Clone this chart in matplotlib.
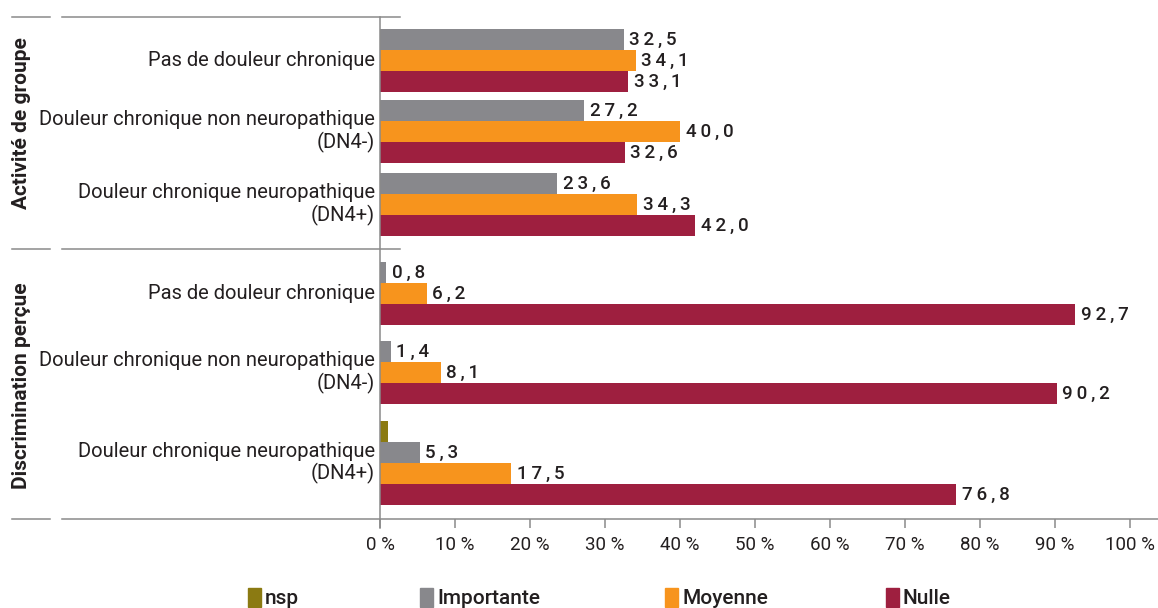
import matplotlib
matplotlib.use("Agg")
import matplotlib.pyplot as plt
from matplotlib.lines import Line2D
from matplotlib.patches import Rectangle

# ---------------- data ----------------
groups = ["Activité de groupe", "Discrimination perçue"]
categories = ["Pas de douleur chronique",
              "Douleur chronique non neuropathique\n(DN4-)",
              "Douleur chronique neuropathique\n(DN4+)"]
series_names = ["nsp", "Importante", "Moyenne", "Nulle"]
nsp = [[None, None, None], [None, None, 1.0]]
importante = [[32.5, 27.2, 23.6], [0.8, 1.4, 5.3]]
moyenne = [[34.1, 40.0, 34.3], [6.2, 8.1, 17.5]]
nulle = [[33.1, 32.6, 42.0], [92.7, 90.2, 76.8]]
nsp_labelled = False
xticks = [0, 10, 20, 30, 40, 50, 60, 70, 80, 90, 100]

# ---------------- style / layout ----------------
colors = ["#8b7a12", "#88888c", "#f7941d", "#9e1f3f"]
W, H = 1158, 608
BAR_H = 21
# top (pixel row) of the first bar of each category
cat_top = [[29, 100, 173], [262, 341, 421]]
AX_L, AX_R, AX_T, AX_B = 380, 1130, 17, 519
LINE_C = "#8a8a8a"
TXT_C = "#231f20"
FONT = ["Roboto", "DejaVu Sans"]

plt.rcParams["font.family"] = FONT

fig = plt.figure(figsize=(W / 100, H / 100), dpi=100)
ax = fig.add_axes([AX_L / W, 1 - AX_B / H, (AX_R - AX_L) / W, (AX_B - AX_T) / H])
ax.set_xlim(0, 100)
ax.set_ylim(AX_B, AX_T)
for s in ax.spines.values():
    s.set_visible(False)


def spaced(s):
    return "\u2009".join(list(s))


all_series = [nsp, importante, moyenne, nulle]
for g in range(len(groups)):
    for c in range(len(categories)):
        y = cat_top[g][c]
        for si, ser in enumerate(all_series):
            v = ser[g][c]
            if v is None:
                continue
            yc = y + BAR_H / 2
            ax.barh(yc, v, height=BAR_H, color=colors[si], edgecolor="none")
            if si > 0 or nsp_labelled:
                ax.text(v + 0.75, yc + 0.5, spaced(f"{v:.1f}".replace(".", ",")),
                        va="center", ha="left", fontsize=13.5, color=TXT_C,
                        fontweight="medium", family=FONT)
            y += BAR_H
        top = cat_top[g][c]
        n = sum(1 for ser in all_series if ser[g][c] is not None)
        yc_cat = top + n * BAR_H / 2
        ax.text(-0.7, yc_cat, categories[c], ha="right", va="center",
                fontsize=14.5, color=TXT_C, linespacing=1.12,
                transform=ax.transData, clip_on=False)

ax.set_yticks([])
ax.set_xticks(xticks)
ax.set_xticklabels([f"{t} %" for t in xticks], fontsize=13.5, color=TXT_C)
ax.tick_params(axis="x", length=6.5, width=1.1, color=LINE_C, pad=6)


def fline(x0, y0, x1, y1):
    fig.add_artist(Line2D([x0 / W, x1 / W], [1 - y0 / H, 1 - y1 / H],
                          color=LINE_C, lw=1.1, transform=fig.transFigure))


for yy in (17, 249):
    fline(12, yy, 50, yy)
    fline(62, yy, 400, yy)
fline(12, 519, 50, 519)
fline(62, 519, 1158, 519)
fline(380, 17, 380, 528)

# group labels
group_centers = [123, 386]
for gname, gy in zip(groups, group_centers):
    fig.text(22 / W, 1 - gy / H, gname, rotation=90, ha="center", va="center",
             fontsize=15, fontweight="semibold", color=TXT_C)

# legend
leg_x = [248, 420, 665, 886]
for name, col, lx in zip(series_names, colors, leg_x):
    fig.add_artist(Rectangle((lx / W, 1 - 607 / H), 13 / W, 19 / H,
                             color=col, transform=fig.transFigure))
    fig.text((lx + 17) / W, 1 - 598 / H, name, ha="left", va="center",
             fontsize=15, fontweight="medium", color=TXT_C)

fig.savefig("out.png", dpi=100, facecolor="white")
